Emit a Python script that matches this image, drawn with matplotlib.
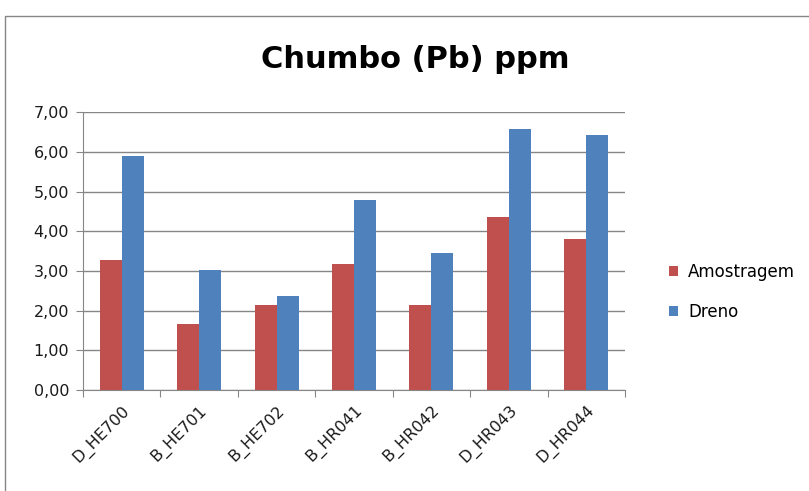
import matplotlib
matplotlib.use("Agg")
import matplotlib.pyplot as plt
from matplotlib.lines import Line2D
from matplotlib.ticker import FuncFormatter
import numpy as np

# Chart values
categories = ["D_HE700", "B_HE701", "B_HE702", "B_HR041", "B_HR042", "D_HR043", "D_HR044"]
amostragem = [3.28, 1.66, 2.13, 3.17, 2.13, 4.36, 3.80]
dreno = [5.91, 3.02, 2.38, 4.79, 3.46, 6.59, 6.42]

plt.rcParams['font.family'] = ['DejaVu Sans']

fig = plt.figure(figsize=(8.09, 4.91), dpi=100)
ax = fig.add_axes([83 / 809, 1 - 390 / 491, (625 - 83) / 809, (390 - 112.3) / 491])

x = np.arange(len(categories))
w = 0.285
ax.bar(x - w / 2, amostragem, w, color="#C0504D", label="Amostragem", zorder=3)
ax.bar(x + w / 2, dreno, w, color="#4F81BD", label="Dreno", zorder=3)

ax.set_xlim(-0.5, len(categories) - 0.5)
ax.set_ylim(0, 7)
ax.set_yticks(range(0, 8))
ax.yaxis.set_major_formatter(FuncFormatter(lambda v, p: f"{v:.2f}".replace(".", ",")))
ax.grid(axis="y", color="#868686", linewidth=1, zorder=0)

# category ticks at boundaries, labels at centres
ax.set_xticks(np.arange(-0.5, len(categories)), minor=False)
ax.set_xticklabels([])
ax.set_xticks(x, minor=True)
ax.set_xticklabels(categories, minor=True, rotation=45, ha="right", rotation_mode="anchor",
                   fontsize=11.5, color="#1a1a1a")
ax.tick_params(axis="x", which="minor", length=0, pad=9)
ax.tick_params(axis="x", which="major", length=5, color="#868686", direction="out")
ax.tick_params(axis="y", length=5, color="#868686", labelsize=11.5, labelcolor="#1a1a1a", pad=5)

for s in ["top", "right"]:
    ax.spines[s].set_visible(False)
for s in ["left", "bottom"]:
    ax.spines[s].set_color("#868686")

fig.text(415 / 809, 1 - 60 / 491, "Chumbo (Pb) ppm", ha="center", va="center",
         fontsize=22, fontweight="bold", color="black")

ax.legend(loc="center left", bbox_to_anchor=(654 / 809, 1 - 292 / 491),
          bbox_transform=fig.transFigure, frameon=False, fontsize=12,
          handlelength=0.55, handleheight=0.55, labelspacing=1.3, handletextpad=0.6)

# chart area border
fig.add_artist(Line2D([5 / 809, 5 / 809, 1], [0, 1 - 16 / 491, 1 - 16 / 491],
                      transform=fig.transFigure, color="#868686", linewidth=1))

fig.savefig("out.png", dpi=100)
